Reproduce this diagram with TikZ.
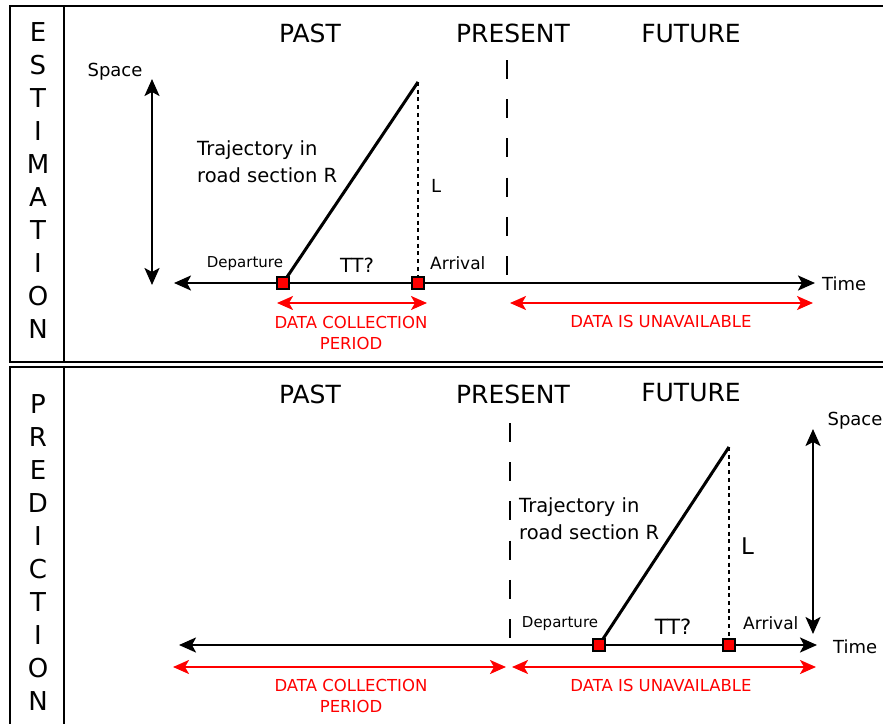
\documentclass[tikz,border=0pt]{standalone}
\usepackage{fontspec}
\setmainfont{DejaVu Sans}
\usetikzlibrary{arrows.meta}

% font size helper
\newcommand\fsz[1]{\fontsize{#1pt}{#1pt}\selectfont}

\begin{document}
\begin{tikzpicture}[x=1pt,y=-1pt,
  frame/.style={line width=2pt},
  txt/.style={inner sep=0pt,anchor=base},
  head/.style={txt,font=\fsz{25}},
  side/.style={txt,font=\fsz{26}},
  lab/.style={txt,font=\fsz{18}},
  small/.style={txt,font=\fsz{15}},
  redtxt/.style={txt,font=\fsz{16.5},text=red},
  axis/.style={line width=2.4pt,arrows={Stealth[length=17pt,width=15pt,inset=4pt]-Stealth[length=17pt,width=15pt,inset=4pt]}},
  redspan/.style={line width=2pt,red,arrows={Stealth[length=16pt,width=14pt,inset=4pt]-Stealth[length=16pt,width=14pt,inset=4pt]}},
  traj/.style={line width=3pt},
  height/.style={line width=2.5pt,dash pattern=on 4pt off 3.7pt},
  now/.style={line width=2.4pt,dash pattern=on 19pt off 20.2pt},
  event/.style={draw=black,fill=red,line width=1.7pt,minimum size=12.5pt,inner sep=0pt},
]
\useasboundingbox (0,0) rectangle (883,723);
\fill[white] (0,0) rectangle (883,723);

% panel frames
\draw[frame] (895,6) -- (10,6) -- (10,362) -- (895,362);
\draw[frame] (64,6) -- (64,362);
\draw[frame] (895,367) -- (10,367) -- (10,735);
\draw[frame] (64,367) -- (64,735);

% side titles, one letter per line
\foreach \ch [count=\i from 0] in {E,S,T,I,M,A,T,I,O,N}
  \node[side] (est\i) at (38,41+33*\i) {\ch};
\foreach \ch [count=\i from 0] in {P,R,E,D,I,C,T,I,O,N}
  \node[side] (pre\i) at (38,413+33*\i) {\ch};

% ---------------- estimation panel ----------------
\node[head] (pastA) at (310,42) {PAST};
\node[head] (presA) at (513,42) {PRESENT};
\node[head] (futA)  at (691,42) {FUTURE};

\node[lab] (spaceA) at (115,76) {Space};
\coordinate (spA1) at (152,79);
\coordinate (spA2) at (152,285);
\draw[axis] (spA1) -- (spA2);

\coordinate (tA1) at (174,283);
\coordinate (tA2) at (815,283);
\draw[axis] (tA1) -- (tA2);
\node[lab,anchor=base west] (timeA) at (822,290) {Time};

\coordinate (nowA1) at (507,60);
\coordinate (nowA2) at (507,277);
\draw[now] (nowA1) -- (nowA2);

\coordinate (topA) at (418,82);
\node[event] (depA) at (283,283) {};
\node[event] (arrA) at (418,283) {};
\draw[traj] (depA.center) -- (topA);
\draw[height] (topA) -- (arrA.north);
\node[event] at (depA) {};
\node[event] at (arrA) {};

\node[txt,font=\fsz{19.5},anchor=base west] (trA1) at (197,155) {Trajectory in};
\node[txt,font=\fsz{19.5},anchor=base west] (trA2) at (197,182) {road section R};
\node[txt,font=\fsz{18},anchor=base west] (lenA) at (431,192) {L};
\node[small] (depLA) at (245,267) {Departure};
\node[txt,font=\fsz{17},anchor=base west] (arrLA) at (430,269) {Arrival};
\node[txt,font=\fsz{19.5}] (ttA) at (357,272) {TT?};

\coordinate (colA1) at (277,303);
\coordinate (colA2) at (427,303);
\draw[redspan] (colA1) -- (colA2);
\coordinate (unA1) at (510,303);
\coordinate (unA2) at (813,303);
\draw[redspan] (unA1) -- (unA2);
\node[redtxt] (colTA1) at (351,328) {DATA COLLECTION};
\node[redtxt] (colTA2) at (351,349) {PERIOD};
\node[redtxt] (unTA) at (661,327) {DATA IS UNAVAILABLE};

% ---------------- prediction panel ----------------
\node[head] (pastB) at (310,403) {PAST};
\node[head] (presB) at (513,403) {PRESENT};
\node[head] (futB)  at (691,401) {FUTURE};

\node[lab] (spaceB) at (855,425) {Space};
\coordinate (spB1) at (813,429);
\coordinate (spB2) at (813,634);
\draw[axis] (spB1) -- (spB2);

\coordinate (tB1) at (179,645);
\coordinate (tB2) at (817,645);
\draw[axis] (tB1) -- (tB2);
\node[lab,anchor=base west] (timeB) at (833,653) {Time};

\coordinate (nowB1) at (510,423);
\coordinate (nowB2) at (510,638);
\draw[now] (nowB1) -- (nowB2);

\coordinate (topB) at (729,447);
\node[event] (depB) at (599,645) {};
\node[event] (arrB) at (729,645) {};
\draw[traj] (depB.center) -- (topB);
\draw[height] (topB) -- (arrB.north);
\node[event] at (depB) {};
\node[event] at (arrB) {};

\node[txt,font=\fsz{19.5},anchor=base west] (trB1) at (519,512) {Trajectory in};
\node[txt,font=\fsz{19.5},anchor=base west] (trB2) at (519,539) {road section R};
\node[txt,font=\fsz{23},anchor=base west] (lenB) at (741,554) {L};
\node[small] (depLB) at (560,627) {Departure};
\node[txt,font=\fsz{17},anchor=base west] (arrLB) at (743,629) {Arrival};
\node[txt,font=\fsz{21}] (ttB) at (673,634) {TT?};

\coordinate (colB1) at (173,667);
\coordinate (colB2) at (506,667);
\draw[redspan] (colB1) -- (colB2);
\coordinate (unB1) at (512,667);
\coordinate (unB2) at (816,667);
\draw[redspan] (unB1) -- (unB2);
\node[redtxt] (colTB1) at (351,691) {DATA COLLECTION};
\node[redtxt] (colTB2) at (351,712) {PERIOD};
\node[redtxt] (unTB) at (661,691) {DATA IS UNAVAILABLE};
\end{tikzpicture}
\end{document}
